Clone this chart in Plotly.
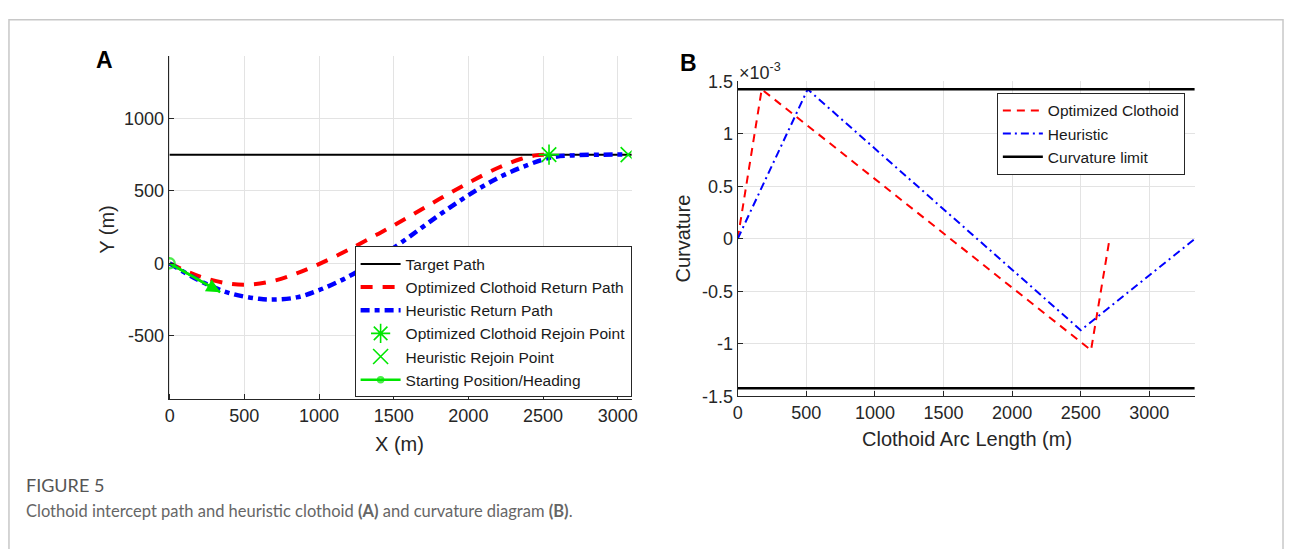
import plotly.graph_objects as go

# ---------------- Panel A data ----------------
target_x = [0, 3100]
target_y = [750, 750]

opt_x = [0, 200, 400, 550, 700, 850, 1000, 1200, 1400, 1600, 1800, 2000, 2200, 2350, 2450, 2540]
opt_y = [0, -90, -140, -145, -120, -70, -5, 95, 205, 320, 440, 555, 660, 720, 745, 750]

heu_x = [0, 200, 400, 600, 700, 850, 1000, 1200, 1400, 1600, 1800, 2000, 2200, 2400, 2550, 2700, 2900, 3070]
heu_y = [0, -120, -205, -245, -250, -235, -185, -90, 35, 180, 330, 470, 590, 680, 730, 745, 750, 750]

opt_rejoin = [2540, 750]
heu_rejoin = [3070, 750]
start_pos = [0, 0]
start_heading_end = [339, -199]

a_xticks = [0, 500, 1000, 1500, 2000, 2500, 3000]
a_yticks = [-500, 0, 500, 1000]
a_ytext = ["-500", "0", "500", "1000"]

# ---------------- Panel B data ----------------
opt_s = [0, 175, 2575, 2710]
opt_k = [0, 1.4235, -1.06, 0]
heu_s = [0, 510, 2500, 3331]
heu_k = [0, 1.4235, -0.87, 0]
limit_s = [0, 3331]
limit_k = 1.4235

b_xticks = [0, 500, 1000, 1500, 2000, 2500, 3000]
b_yticks = [-1.5, -1, -0.5, 0, 0.5, 1, 1.5]
b_ytext = ["-1.5", "-1", "-0.5", "0", "0.5", "1", "1.5"]

GREEN = "#00e600"
FONT = "Liberation Sans, Arial, sans-serif"
AX = "#262626"
GRID = "#e3e3e3"

fig = go.Figure()

# Panel A traces
fig.add_trace(go.Scatter(x=target_x, y=target_y, mode="lines", name="Target Path",
                         line=dict(color="black", width=2), legend="legend"))
fig.add_trace(go.Scatter(x=opt_x, y=opt_y, mode="lines", name="Optimized Clothoid Return Path",
                         line=dict(color="#ff0000", width=4, dash="12px,10px", shape="spline"),
                         legend="legend"))
fig.add_trace(go.Scatter(x=heu_x, y=heu_y, mode="lines", name="Heuristic Return Path",
                         line=dict(color="#0000ff", width=4.5, dash="9px,5px,5px,5px", shape="spline"),
                         legend="legend"))
fig.add_trace(go.Scatter(x=[opt_rejoin[0]], y=[opt_rejoin[1]], mode="markers",
                         name="Optimized Clothoid Rejoin Point",
                         marker=dict(symbol="asterisk-open", size=17, color=GREEN,
                                     line=dict(color=GREEN, width=1.6)), legend="legend"))
fig.add_trace(go.Scatter(x=[heu_rejoin[0]], y=[heu_rejoin[1]], mode="markers",
                         name="Heuristic Rejoin Point",
                         marker=dict(symbol="x-thin-open", size=15, color=GREEN,
                                     line=dict(color=GREEN, width=1.6)), legend="legend"))
fig.add_trace(go.Scatter(x=[start_pos[0], start_heading_end[0]], y=[start_pos[1], start_heading_end[1]],
                         mode="lines+markers", name="Starting Position/Heading",
                         line=dict(color=GREEN, width=2.5),
                         marker=dict(symbol=["circle-open", "circle-open"], size=[10, 0], color=GREEN,
                                     line=dict(color=GREEN, width=2.5)), legend="legend"))
fig.add_annotation(x=start_heading_end[0], y=start_heading_end[1], ax=start_pos[0], ay=start_pos[1],
                   xref="x", yref="y", axref="x", ayref="y", showarrow=True, arrowhead=2,
                   arrowsize=1.1, arrowwidth=2.5, arrowcolor=GREEN, text=" ", standoff=0)

# Panel B traces
fig.add_trace(go.Scatter(x=opt_s, y=opt_k, mode="lines", name="Optimized Clothoid",
                         line=dict(color="#ff0000", width=2, dash="8px,6px"),
                         xaxis="x2", yaxis="y2", legend="legend2"))
fig.add_trace(go.Scatter(x=heu_s, y=heu_k, mode="lines", name="Heuristic",
                         line=dict(color="#0000ff", width=2, dash="8px,4px,2px,4px"),
                         xaxis="x2", yaxis="y2", legend="legend2"))
fig.add_trace(go.Scatter(x=limit_s, y=[limit_k, limit_k], mode="lines", name="Curvature limit",
                         line=dict(color="black", width=2.5),
                         xaxis="x2", yaxis="y2", legend="legend2"))
fig.add_trace(go.Scatter(x=limit_s, y=[-limit_k, -limit_k], mode="lines", showlegend=False,
                         line=dict(color="black", width=2.5), xaxis="x2", yaxis="y2"))

W, H = 1290, 549
def px(x): return x / W
def py(y): return 1 - y / H

axis_common = dict(showline=True, linecolor=AX, linewidth=1, ticks="inside", tickcolor=AX,
                   ticklen=5, showgrid=True, gridcolor=GRID, gridwidth=1, zeroline=False,
                   tickfont=dict(family=FONT, size=18, color=AX), mirror=False)

fig.update_layout(
    width=W, height=H, margin=dict(l=0, r=0, t=0, b=0),
    paper_bgcolor="white", plot_bgcolor="white",
    font=dict(family=FONT, color=AX),
    xaxis=dict(domain=[px(165), px(632)], range=[-7, 3093], tickmode="array", tickvals=a_xticks,
               anchor="y", **axis_common),
    yaxis=dict(domain=[py(404), py(48)], range=[-938, 1429], tickmode="array", tickvals=a_yticks,
               ticktext=a_ytext, anchor="x", **axis_common),
    xaxis2=dict(domain=[px(739), px(1200)], range=[0, 3331], tickmode="array", tickvals=b_xticks,
                anchor="y2", **axis_common),
    yaxis2=dict(domain=[py(401), py(74)], range=[-1.5, 1.5], tickmode="array", tickvals=b_yticks,
                ticktext=b_ytext, anchor="x2", **axis_common),
    legend=dict(x=px(632), y=py(402), xanchor="right", yanchor="bottom",
                bgcolor="white", bordercolor="#262626", borderwidth=1,
                font=dict(family=FONT, size=15.5, color="#1a1a1a"), tracegroupgap=0,
                itemwidth=40),
    legend2=dict(x=px(1190), y=py(86), xanchor="right", yanchor="top",
                 bgcolor="white", bordercolor="#262626", borderwidth=1,
                 font=dict(family=FONT, size=15.5, color="#1a1a1a"), tracegroupgap=0,
                 itemwidth=40),
    showlegend=True,
)

annos = [
    dict(x=px(100), y=py(52), text="<b>A</b>", font=dict(size=23, color="black")),
    dict(x=px(689), y=py(55), text="<b>B</b>", font=dict(size=23, color="black")),
    dict(x=px(398), y=py(450), text="X (m)", font=dict(size=20, color=AX)),
    dict(x=px(103), y=py(228), text="Y (m)", font=dict(size=20, color=AX), textangle=-90),
    dict(x=px(970), y=py(445), text="Clothoid Arc Length (m)", font=dict(size=20, color=AX)),
    dict(x=px(684), y=py(237), text="Curvature", font=dict(size=20, color=AX), textangle=-90),
    dict(x=px(738), y=py(64), text="×10<sup>-3</sup>", font=dict(size=18, color=AX),
         xanchor="left"),
    dict(x=px(19), y=py(493), text="FIGURE 5", xanchor="left",
         font=dict(family="Liberation Sans Narrow, Lato, sans-serif", size=18, color="#555555")),
    dict(x=px(19), y=py(520),
         text="Clothoid intercept path and heuristic clothoid <b>(A)</b> and curvature diagram <b>(B)</b>.",
         xanchor="left", font=dict(family="Liberation Sans Narrow, Lato, sans-serif", size=16.5,
                                   color="#666666")),
]
for a in annos:
    a.setdefault("xref", "paper"); a.setdefault("yref", "paper"); a.setdefault("showarrow", False)
    a.setdefault("yanchor", "middle"); a.setdefault("xanchor", "center")
    f = a["font"]; f.setdefault("family", FONT)
    fig.add_annotation(**a)

fig.add_shape(type="rect", xref="paper", yref="paper", x0=px(4), x1=px(1289), y0=-0.2, y1=py(10),
              line=dict(color="#c8c8c8", width=1.5), fillcolor="rgba(0,0,0,0)", layer="below")

fig.write_html("out.html",
               post_script="document.body.style.margin='0';document.body.style.overflow='hidden';")
